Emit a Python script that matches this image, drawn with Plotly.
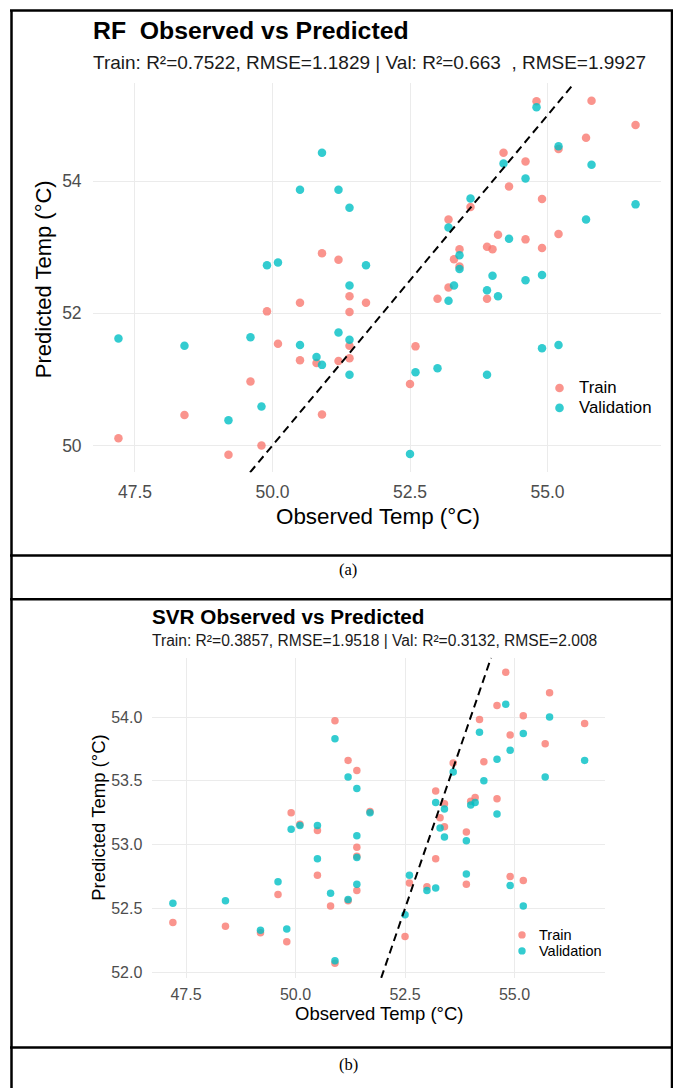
import plotly.graph_objects as go

W, H = 673, 1091

# Observed temperature of each sample (same samples for both models)
observed = [47.2, 48.4, 49.2, 49.6, 49.8, 49.9, 50.1, 50.5, 50.5, 50.8, 50.9, 50.9,
            51.2, 51.2, 51.4, 51.4, 51.4, 51.4, 51.7, 52.5, 52.6, 53.0, 53.2, 53.2,
            53.3, 53.4, 53.4, 53.6, 53.9, 53.9, 54.0, 54.1, 54.2, 54.3, 54.6, 54.6,
            54.8, 54.9, 54.9, 55.2, 55.2, 55.7, 55.8, 56.6]

# Random forest predictions
rf_train = [50.11, 50.46, 49.86, 50.97, 50.00, 52.03, 51.54, 52.16, 51.29, 51.25, 52.91, 50.47,
            52.81, 51.28, 52.26, 52.02, 51.51, 51.32, 52.16, 50.93, 51.50, 52.22, 53.42, 52.39,
            52.82, 52.97, 52.71, 53.61, 53.01, 52.22, 52.97, 53.19, 54.43, 53.92, 54.30, 53.12,
            55.21, 53.73, 52.99, 54.49, 53.20, 54.66, 55.22, 54.85]
rf_val = [51.62, 51.51, 50.38, 51.64, 50.59, 52.73, 52.77, 53.87, 51.52, 51.34, 54.43, 51.22,
          53.87, 51.71, 53.60, 52.42, 51.60, 51.07, 52.73, 49.87, 51.11, 51.17, 53.30, 52.19,
          52.42, 52.88, 52.67, 53.74, 52.35, 51.07, 52.57, 52.26, 54.27, 53.13, 54.04, 52.50,
          55.12, 52.58, 51.47, 54.53, 51.52, 53.42, 54.25, 53.65]

# Support vector regression predictions
svr_train = [52.39, 52.36, 52.31, 52.61, 52.24, 53.25, 53.16, 53.11, 52.76, 52.52, 53.97, 52.07,
             53.66, 52.56, 53.58, 52.98, 52.91, 52.64, 53.26, 52.28, 52.70, 52.67, 53.42, 52.89,
             53.21, 53.32, 53.14, 53.64, 53.10, 52.69, 53.34, 53.37, 53.98, 53.65, 54.09, 53.36,
             54.35, 53.86, 52.75, 54.01, 52.72, 53.79, 54.19, 53.95]
svr_val = [52.54, 52.56, 52.33, 52.71, 52.34, 53.12, 53.15, 53.15, 52.89, 52.62, 53.83, 52.09,
           53.53, 52.57, 53.44, 53.07, 52.90, 52.69, 53.25, 52.45, 52.76, 52.64, 53.33, 52.66,
           53.13, 53.28, 53.06, 53.57, 53.03, 52.77, 53.31, 53.33, 53.88, 53.50, 53.67, 53.24,
           54.10, 53.74, 52.68, 53.87, 52.52, 53.53, 54.00, 53.66]

x_ticks = [47.5, 50.0, 52.5, 55.0]
x_ticktext = ["47.5", "50.0", "52.5", "55.0"]
rf_y_ticks = [50, 52, 54]
rf_y_ticktext = ["50", "52", "54"]
svr_y_ticks = [52.0, 52.5, 53.0, 53.5, 54.0]
svr_y_ticktext = ["52.0", "52.5", "53.0", "53.5", "54.0"]

series_names = ["Train", "Validation"]
TRAIN_COLOR = "rgba(248,118,109,0.78)"
VAL_COLOR = "rgba(0,191,196,0.80)"
SANS = "Liberation Sans, Arial, sans-serif"
SERIF = "Liberation Serif, Times New Roman, serif"
GRID = "#EBEBEB"
TICK_COLOR = "#4D4D4D"


def fx(p):
    return p / W


def fy(p):
    return 1 - p / H


def expanded(values, mult=0.05):
    lo, hi = min(values), max(values)
    pad = (hi - lo) * mult
    return [lo - pad, hi + pad]


fig = go.Figure()

panels = [
    dict(xa="x", ya="y", train=rf_train, val=rf_val, size=8.5),
    dict(xa="x2", ya="y2", train=svr_train, val=svr_val, size=7.5),
]

ranges = []
for p in panels:
    xr = expanded(observed)
    yr = expanded(p["train"] + p["val"])
    ranges.append((xr, yr))
    fig.add_trace(go.Scatter(x=observed, y=p["train"], mode="markers", name=series_names[0],
                             marker=dict(color=TRAIN_COLOR, size=p["size"], line=dict(width=0)),
                             xaxis=p["xa"], yaxis=p["ya"], showlegend=False))
    fig.add_trace(go.Scatter(x=observed, y=p["val"], mode="markers", name=series_names[1],
                             marker=dict(color=VAL_COLOR, size=p["size"], line=dict(width=0)),
                             xaxis=p["xa"], yaxis=p["ya"], showlegend=False))
    # 1:1 reference line across the panel
    lo = max(xr[0], yr[0])
    hi = min(xr[1], yr[1])
    fig.add_trace(go.Scatter(x=[lo, hi], y=[lo, hi], mode="lines",
                             line=dict(color="black", width=2, dash="8px,5px"),
                             xaxis=p["xa"], yaxis=p["ya"], showlegend=False, hoverinfo="skip"))


def axis_style(size, standoff):
    return dict(showgrid=True, gridcolor=GRID, gridwidth=1.4, zeroline=False, showline=False,
                ticks="", tickfont=dict(family=SANS, size=size, color=TICK_COLOR),
                ticklabelstandoff=standoff, tickmode="array")


(rf_xr, rf_yr), (svr_xr, svr_yr) = ranges

fig.update_layout(
    width=W, height=H, margin=dict(l=0, r=0, t=0, b=0),
    paper_bgcolor="white", plot_bgcolor="white", showlegend=False,
    xaxis=dict(domain=[fx(92.6), fx(661.4)], range=rf_xr, anchor="y",
               tickvals=x_ticks, ticktext=x_ticktext, **axis_style(17.5, 7)),
    yaxis=dict(domain=[fy(473.7), fy(83.2)], range=rf_yr, anchor="x",
               tickvals=rf_y_ticks, ticktext=rf_y_ticktext, **axis_style(17.5, 10)),
    xaxis2=dict(domain=[fx(152.3), fx(605.2)], range=svr_xr, anchor="y2",
                tickvals=x_ticks, ticktext=x_ticktext, **axis_style(16, 5)),
    yaxis2=dict(domain=[fy(980.6), fy(659.6)], range=svr_yr, anchor="x2",
                tickvals=svr_y_ticks, ticktext=svr_y_ticktext, **axis_style(16, 9)),
)


def text(t, x, y, size, xanchor="center", angle=0, family=SANS, color="black"):
    fig.add_annotation(text=t, x=fx(x), y=fy(y), xref="paper", yref="paper",
                       xanchor=xanchor, yanchor="middle", showarrow=False, textangle=angle,
                       font=dict(family=family, size=size, color=color))


# Panel (a): random forest
text("<b>RF\u00a0 Observed vs Predicted</b>", 90.5, 31, 24.8, xanchor="left")
text("Train: R\u00b2=0.7522, RMSE=1.1829 | Val: R\u00b2=0.663\u00a0 , RMSE=1.9927", 90.5, 63, 19,
     xanchor="left", color="#1A1A1A")
text("Observed Temp (\u00b0C)", 377.5, 518, 22.4)
text("Predicted Temp (\u00b0C)", 43, 280, 22, angle=-90)

# Panel (b): support vector regression
text("<b>SVR Observed vs Predicted</b>", 149.5, 618, 20.7, xanchor="left")
text("Train: R\u00b2=0.3857, RMSE=1.9518 | Val: R\u00b2=0.3132, RMSE=2.008", 149.5, 642, 15.6,
     xanchor="left", color="#1A1A1A")
text("Observed Temp (\u00b0C)", 378.5, 1016, 18.5)
text("Predicted Temp (\u00b0C)", 99, 820, 18.5, angle=-90)

# Legends drawn inside each panel
shapes = []
legend_specs = [
    dict(mx=559.5, tx=577, ys=[389, 409], r=4.3, size=16.8),
    dict(mx=522, tx=536.5, ys=[937.5, 953.5], r=3.7, size=14.5),
]
for spec in legend_specs:
    for name, color, yy in zip(series_names, [TRAIN_COLOR, VAL_COLOR], spec["ys"]):
        shapes.append(dict(type="circle", xref="paper", yref="paper",
                           xsizemode="pixel", ysizemode="pixel",
                           xanchor=fx(spec["mx"]), yanchor=fy(yy),
                           x0=-spec["r"], x1=spec["r"], y0=-spec["r"], y1=spec["r"],
                           fillcolor=color, line=dict(width=0)))
        text(name, spec["tx"], yy, spec["size"], xanchor="left")

# Figure captions
text("(a)", 348, 571, 16.5, family=SERIF)
text("(b)", 348, 1067, 16.5, family=SERIF)

# Table rules framing the two panels
rule = dict(color="black", width=2.5)
for (x0, y0, x1, y1) in [(10, 10.5, 673, 10.5), (11.5, 10, 11.5, 1091), (672, 10, 672, 1091),
                         (10, 557, 673, 557), (10, 601, 673, 601), (10, 1050.5, 673, 1050.5)]:
    shapes.append(dict(type="line", xref="paper", yref="paper",
                       x0=fx(x0), y0=fy(y0), x1=fx(x1), y1=fy(y1), line=rule))

fig.update_layout(shapes=shapes)

fig.write_html("out.html")
